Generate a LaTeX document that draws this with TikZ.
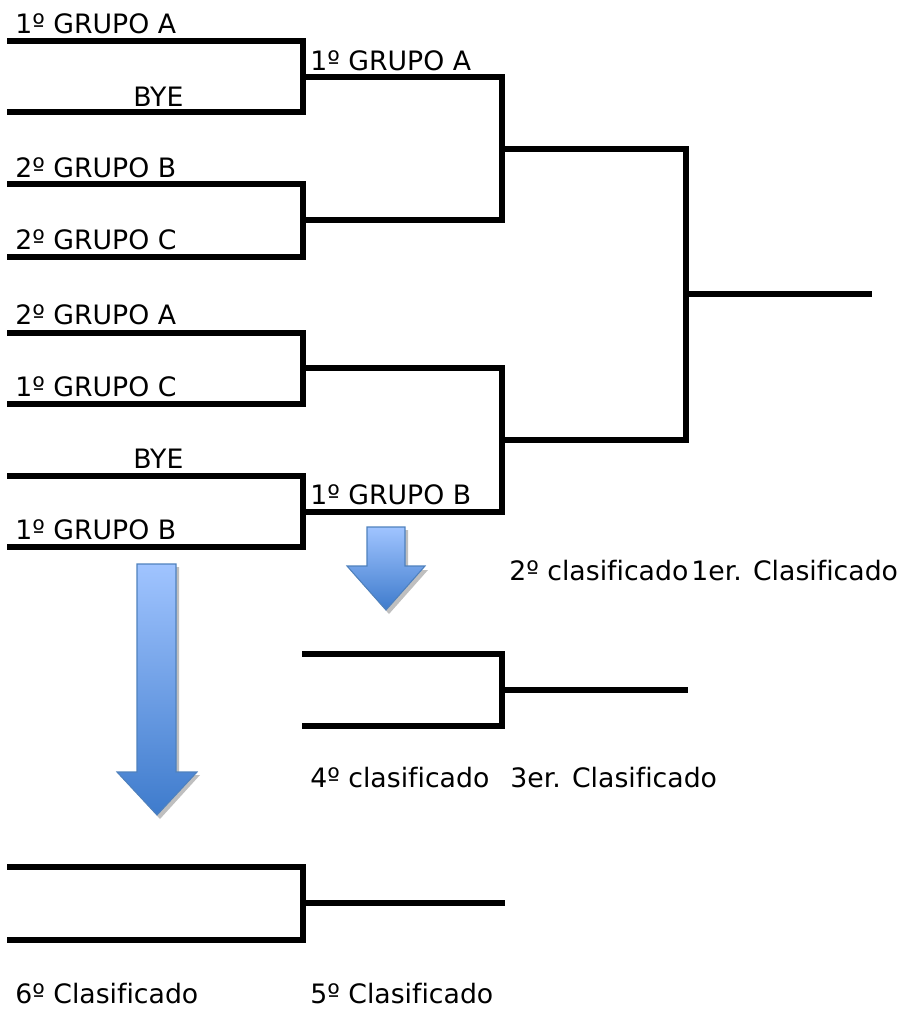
\documentclass[tikz,border=0pt]{standalone}
\usepackage{fontspec}
\setmainfont[Ligatures={NoCommon}]{DejaVu Sans}
\usetikzlibrary{positioning}

\definecolor{arrtop}{HTML}{A0C4FF}
\definecolor{arrbot}{HTML}{3E7BCC}
\definecolor{arredge}{HTML}{4F81BD}

\tikzset{
  lbl/.style={anchor=base west, inner sep=0pt, font=\fontsize{15.2}{18}\selectfont},
  brk/.style={line width=2.9pt, line cap=rect, line join=miter},
  flecha/.style={draw=arredge, line width=0.6pt, top color=arrtop, bottom color=arrbot},
  sombra/.style={fill=black!25}
}

\begin{document}
\begin{tikzpicture}[x=0.02cm, y=-0.02cm]
    \useasboundingbox (0,0) rectangle (904,1009);

    % Primera ronda
    \draw[brk] (10,41) -- (303,41) -- (303,112) -- (10,112);
    \draw[brk] (10,184) -- (303,184) -- (303,257) -- (10,257);
    \draw[brk] (10,333) -- (303,333) -- (303,404) -- (10,404);
    \draw[brk] (10,476) -- (303,476) -- (303,547) -- (10,547);

    % Segunda ronda
    \draw[brk] (303,77) -- (502,77) -- (502,220) -- (303,220);
    \draw[brk] (303,368) -- (502,368) -- (502,512) -- (303,512);

    % Final
    \draw[brk] (502,149) -- (686,149) -- (686,440) -- (502,440);
    \draw[brk] (686,294) -- (869,294);

    % Tercer puesto
    \draw[brk] (305,654) -- (502,654) -- (502,726) -- (305,726);
    \draw[brk] (502,690) -- (685,690);

    % Quinto puesto
    \draw[brk] (10,867) -- (303,867) -- (303,940) -- (10,940);
    \draw[brk] (303,903) -- (502,903);

    % Equipos
    \node (g1a) [lbl] at (15,33) {1º GRUPO A};
    \node (bye1) [lbl] at (133,106) {BYE};
    \node (g2b) [lbl] at (15,177) {2º GRUPO B};
    \node (g2c) [lbl] at (15,249) {2º GRUPO C};
    \node (g2a) [lbl] at (15,324) {2º GRUPO A};
    \node (g1c) [lbl] at (15,396) {1º GRUPO C};
    \node (bye2) [lbl] at (133,468) {BYE};
    \node (g1b) [lbl] at (15,539) {1º GRUPO B};
    \node (r2a) [lbl] at (310,70) {1º GRUPO A};
    \node (r2b) [lbl] at (310,504) {1º GRUPO B};

    % Clasificados
    \node (cla2) [lbl] at (509,580) {2º clasificado};
    \node (cla1) [lbl] at (691,580) {1er. Clasificado};
    \node (cla4) [lbl] at (310,787) {4º clasificado};
    \node (cla3) [lbl] at (510,787) {3er. Clasificado};
    \node (cla6) [lbl] at (15,1003) {6º Clasificado};
    \node (cla5) [lbl] at (310,1003) {5º Clasificado};

    % Flechas
    \fill[sombra] (370,530) -- (408,530) -- (408,570) -- (428,570) -- (389,614) -- (350,570) -- (370,570) -- cycle;
    \path[flecha] (367,527) -- (405,527) -- (405,566) -- (425,566) -- (386,610) -- (347,566) -- (367,566) -- cycle;
    \fill[sombra] (140,567) -- (179,567) -- (179,775) -- (200,775) -- (160,819) -- (120,775) -- (140,775) -- cycle;
    \path[flecha] (137,564) -- (176,564) -- (176,772) -- (197,772) -- (157,815) -- (117,772) -- (137,772) -- cycle;
\end{tikzpicture}
\end{document}
